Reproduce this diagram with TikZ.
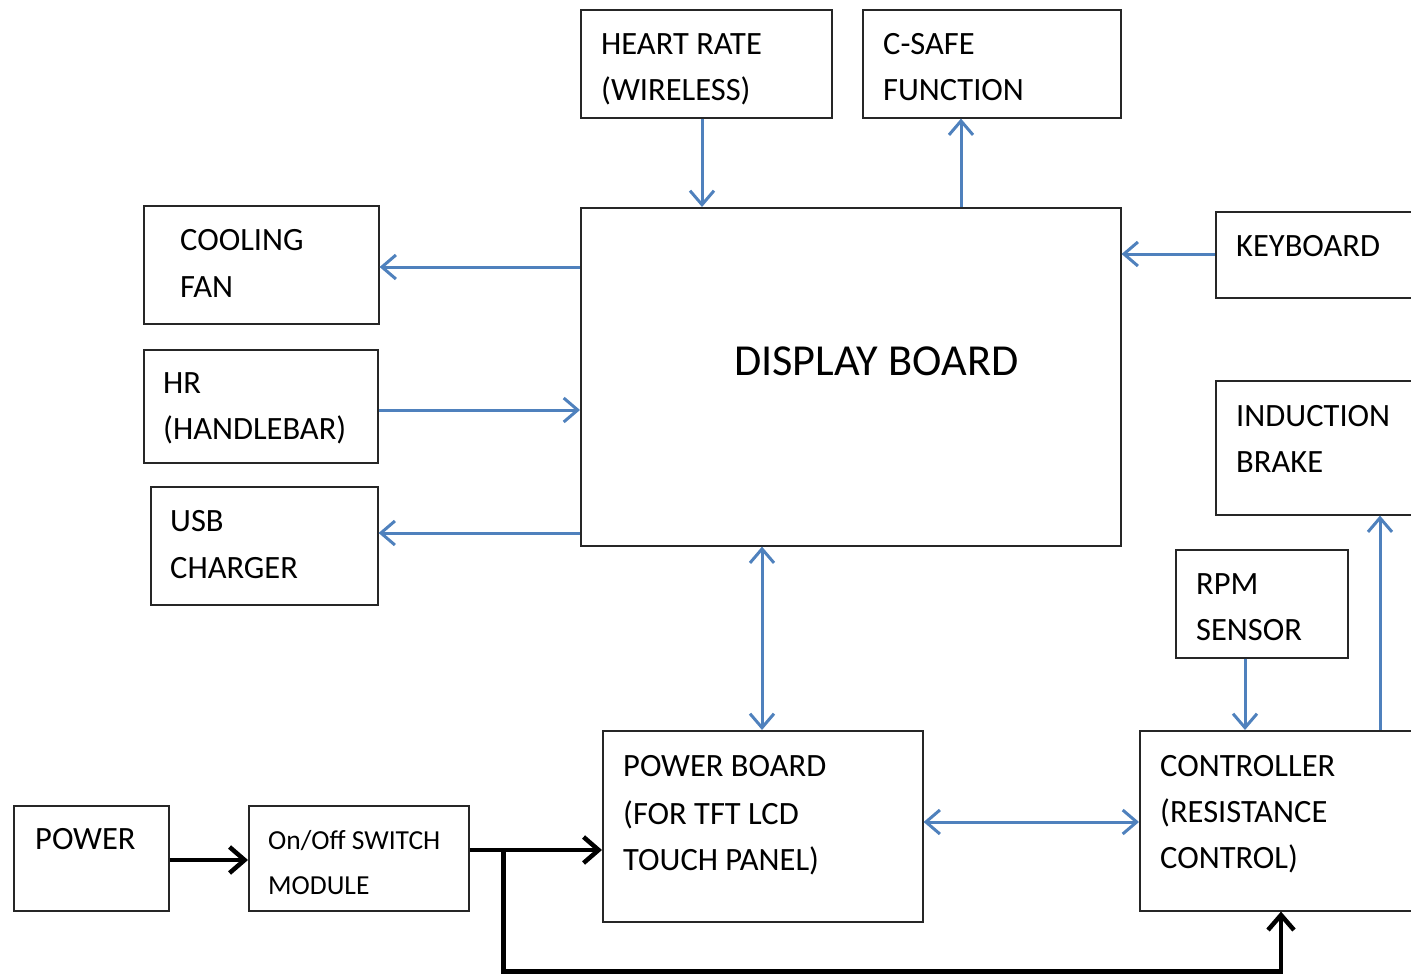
\documentclass[tikz,border=0pt]{standalone}
\usepackage{fontspec}
\setmainfont{Carlito}
\usetikzlibrary{arrows.meta}
\definecolor{arrowblue}{RGB}{79,129,189}
\definecolor{boxline}{RGB}{38,38,38}
\begin{document}
\begin{tikzpicture}[x=1pt,y=-1pt,
  box/.style={draw=boxline, line width=1.6pt, inner sep=0pt, anchor=north west},
  txt/.style={anchor=base west, inner sep=0pt, font=\fontsize{32.5}{38}\selectfont},
  smalltxt/.style={anchor=base west, inner sep=0pt, font=\fontsize{27.5}{32}\selectfont},
  bigtxt/.style={anchor=base west, inner sep=0pt, font=\fontsize{44.3}{50}\selectfont},
  barrow/.style={draw=arrowblue, line width=3pt, -{Straight Barb[length=14pt,width=24pt]}},
  bbarrow/.style={draw=arrowblue, line width=3pt, {Straight Barb[length=14pt,width=24pt]}-{Straight Barb[length=14pt,width=24pt]}},
  karrow/.style={draw=black, line width=4.5pt, -{Straight Barb[length=15pt,width=26pt]}}]
\useasboundingbox (0,0) rectangle (1411,974);
\clip (0,0) rectangle (1411,974);
% boxes
\node[box, minimum width=251pt, minimum height=108pt] (hrw) at (580,9) {};
\node[box, minimum width=258pt, minimum height=108pt] (cs) at (862,9) {};
\node[box, minimum width=540pt, minimum height=338pt] (disp) at (580,207) {};
\node[box, minimum width=235pt, minimum height=118pt] (fan) at (143,205) {};
\node[box, minimum width=234pt, minimum height=113pt] (hh) at (143,349) {};
\node[box, minimum width=227pt, minimum height=118pt] (usb) at (150,486) {};
\node[box, minimum width=230pt, minimum height=86pt] (kb) at (1215,211) {};
\node[box, minimum width=230pt, minimum height=134pt] (ib) at (1215,380) {};
\node[box, minimum width=172pt, minimum height=108pt] (rpm) at (1175,549) {};
\node[box, minimum width=300pt, minimum height=180pt] (ctl) at (1139,730) {};
\node[box, minimum width=320pt, minimum height=191pt] (pb) at (602,730) {};
\node[box, minimum width=155pt, minimum height=105pt] (pw) at (13,805) {};
\node[box, minimum width=220pt, minimum height=105pt] (sw) at (248,805) {};
% texts
\node[txt] (t1) at (601,55) {HEART RATE};
\node[txt] (t2) at (601,100) {(WIRELESS)};
\node[txt] (t3) at (883,55) {C-SAFE};
\node[txt] (t4) at (883,100) {FUNCTION};
\node[bigtxt] (t5) at (734,375) {DISPLAY BOARD};
\node[txt] (t6) at (180,250) {COOLING};
\node[txt] (t7) at (180,297) {FAN};
\node[txt] (t8) at (163,393) {HR};
\node[txt] (t9) at (163,439) {(HANDLEBAR)};
\node[txt] (t10) at (170,531) {USB};
\node[txt] (t11) at (170,578) {CHARGER};
\node[txt] (t12) at (1236,256) {KEYBOARD};
\node[txt] (t13) at (1236,426) {INDUCTION};
\node[txt] (t14) at (1236,472) {BRAKE};
\node[txt] (t15) at (1196,594) {RPM};
\node[txt] (t16) at (1196,640) {SENSOR};
\node[txt] (t17) at (1160,776) {CONTROLLER};
\node[txt] (t18) at (1160,822) {(RESISTANCE};
\node[txt] (t19) at (1160,868) {CONTROL)};
\node[txt] (t20) at (623,776) {POWER BOARD};
\node[txt] (t21) at (623,824) {(FOR TFT LCD};
\node[txt] (t22) at (623,870) {TOUCH PANEL)};
\node[txt] (t23) at (35,849) {POWER};
\node[smalltxt] (t24) at (268,849) {On/Off SWITCH};
\node[smalltxt] (t25) at (268,894) {MODULE};
% blue connectors
\draw[barrow] ([xshift=122pt]hrw.south west) -- ([xshift=122pt]disp.north west);
\draw[barrow] ([xshift=381pt]disp.north west) -- ([xshift=99pt]cs.south west);
\draw[barrow] ([yshift=-60pt]disp.north west) -- ([yshift=-62pt]fan.north east);
\draw[barrow] ([yshift=-61pt]hh.north east) -- ([yshift=-203pt]disp.north west);
\draw[barrow] ([yshift=-326pt]disp.north west) -- ([yshift=-47pt]usb.north east);
\draw[barrow] ([yshift=-43pt]kb.north west) -- ([yshift=-47pt]disp.north east);
\draw[bbarrow] ([xshift=182pt]disp.south west) -- ([xshift=160pt]pb.north west);
\draw[bbarrow] ([yshift=-92pt]pb.north east) -- ([yshift=-92pt]ctl.north west);
\draw[barrow] ([xshift=70pt]rpm.south west) -- ([xshift=106pt]ctl.north west);
\draw[barrow] ([xshift=241pt]ctl.north west) -- ([xshift=165pt]ib.south west);
% black connectors
\draw[karrow] ([yshift=-55pt]pw.north east) -- ([yshift=-55pt]sw.north west);
\draw[karrow] ([yshift=-45pt]sw.north east) -- ([yshift=-120pt]pb.north west);
\coordinate (br) at ([xshift=34pt,yshift=-45pt]sw.north east);
\draw[karrow] (br) |- ([xshift=142pt,yshift=-60pt]ctl.south west) -- ([xshift=142pt]ctl.south west);
\end{tikzpicture}
\end{document}
